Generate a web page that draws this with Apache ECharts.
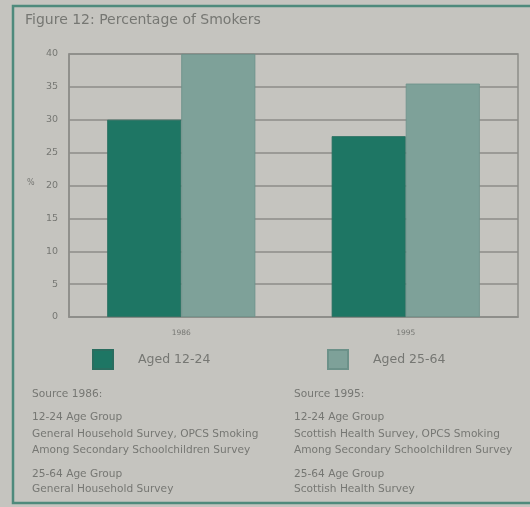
<!DOCTYPE html>
<html><head><meta charset="utf-8">
<script src="https://cdn.jsdelivr.net/npm/echarts@6/dist/echarts.min.js"></script>
<style>html,body{margin:0;padding:0;background:#c5c4bf;}#c{width:530px;height:507px;}</style>
</head><body><div id="c"></div>
<script>
const categories = ['1986', '1995'];
const aged1224 = [30, 27.5];
const aged2564 = [40, 35.5];
const yTicks = [0, 5, 10, 15, 20, 25, 30, 35, 40];
const seriesNames = ['Aged 12-24', 'Aged 25-64'];
const sourceLeft = ['Source 1986:', '12-24 Age Group', 'General Household Survey, OPCS Smoking', 'Among Secondary Schoolchildren Survey', '25-64 Age Group', 'General Household Survey'];
const sourceRight = ['Source 1995:', '12-24 Age Group', 'Scottish Health Survey, OPCS Smoking', 'Among Secondary Schoolchildren Survey', '25-64 Age Group', 'Scottish Health Survey'];

const FONT = '"DejaVu Sans", sans-serif';
const TXT = '#767773';
const DARK = '#1e7664';
const LIGHT = '#7ea199';
const lineYs = [396, 419, 436, 452, 476, 491];

const chart = echarts.init(document.getElementById('c'), null, {renderer: 'canvas'});
const graphics = [
  {type: 'rect', shape: {x: 13, y: 6, width: 530, height: 497}, style: {fill: 'none', stroke: '#4e8a7c', lineWidth: 2.5}, z: 10},
  {type: 'text', left: 27, top: 179, style: {text: '%', fill: TXT, font: '8px ' + FONT}}
];
sourceLeft.forEach((t, i) => graphics.push({type: 'text', left: 32, top: lineYs[i] - 7, style: {text: t, fill: TXT, font: '10.6px ' + FONT}}));
sourceRight.forEach((t, i) => graphics.push({type: 'text', left: 294, top: lineYs[i] - 7, style: {text: t, fill: TXT, font: '10.6px ' + FONT}}));

chart.setOption({
  backgroundColor: '#c5c4bf',
  animation: false,
  title: {text: 'Figure 12: Percentage of Smokers', left: 20, top: 8, textStyle: {fontFamily: FONT, fontSize: 14, fontWeight: 'normal', color: TXT}},
  grid: {left: 69, right: 12, top: 54, bottom: 190, show: true, borderColor: '#8d8d89', borderWidth: 1.5, backgroundColor: 'transparent'},
  legend: [
    {data: [seriesNames[0]], left: 92, top: 349, padding: 0, icon: 'rect', itemWidth: 20, itemHeight: 19, itemGap: 0,
     textStyle: {fontFamily: FONT, fontSize: 12.5, color: TXT, padding: [0, 0, 0, 20]}},
    {data: [seriesNames[1]], left: 327, top: 349, padding: 0, icon: 'rect', itemWidth: 20, itemHeight: 19, itemGap: 0,
     textStyle: {fontFamily: FONT, fontSize: 12.5, color: TXT, padding: [0, 0, 0, 20]}}
  ],
  xAxis: {type: 'category', data: categories,
    axisLine: {show: true, lineStyle: {color: '#8d8d89', width: 1.5}}, axisTick: {show: false},
    axisLabel: {fontFamily: FONT, fontSize: 7.5, color: TXT, margin: 12}},
  yAxis: {type: 'value', min: 0, max: 40, interval: 5,
    axisLine: {show: true, lineStyle: {color: '#8d8d89', width: 1.5}}, axisTick: {show: false},
    splitLine: {lineStyle: {color: '#8d8d89', width: 1.5}},
    axisLabel: {fontFamily: FONT, fontSize: 9.5, color: TXT, margin: 11}},
  series: [
    {name: seriesNames[0], type: 'bar', data: aged1224, barGap: '0%', barCategoryGap: '34%',
     itemStyle: {color: DARK, borderColor: '#2a6d5f', borderWidth: 0.8}},
    {name: seriesNames[1], type: 'bar', data: aged2564, barGap: '0%', barCategoryGap: '34%',
     itemStyle: {color: LIGHT, borderColor: '#6c9189', borderWidth: 0.8}}
  ],
  graphic: graphics
});
</script></body></html>
